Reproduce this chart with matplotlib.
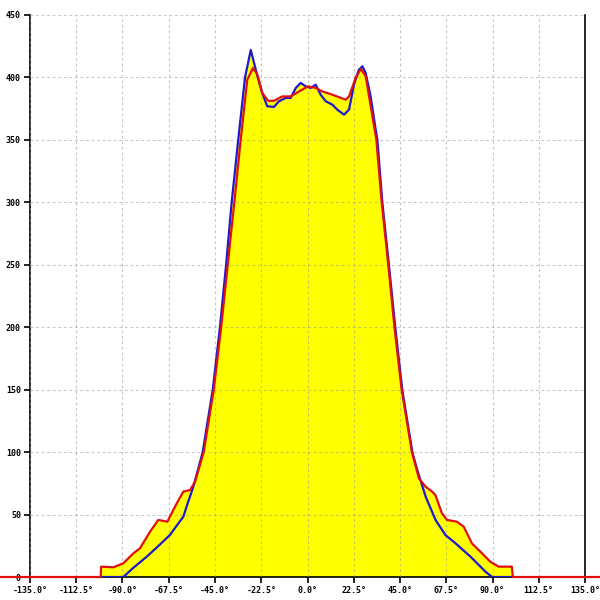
import numpy as np
import matplotlib.pyplot as plt

# angle (deg) / count pairs
blue_x = [-100.4, -89.6, -85.0, -78.2, -72.9, -66.9, -64.0, -60.4, -58.3, -55.5,
          -51.0, -46.1, -42.6, -39.6, -36.9, -33.7, -30.4, -27.6, -24.2, -22.0,
          -19.6, -16.3, -13.9, -10.6, -8.2, -5.7, -3.3, -0.9, 1.6, 4.0,
          6.4, 8.9, 12.1, 14.5, 17.8, 20.2, 22.6, 25.0, 26.7, 28.3,
          30.7, 33.2, 34.0, 36.4, 39.6, 42.7, 46.1, 51.0, 53.4, 57.5,
          62.3, 67.1, 72.0, 79.3, 86.6, 89.8, 100.0]
blue_y = [0, 0, 7, 16.3, 24.3, 33.7, 40.3, 48.3, 59, 72.4,
          100, 150, 200, 250, 300, 350, 400, 422, 400, 387.5,
          376.9, 376.4, 380.9, 383.6, 383.6, 391.6, 395.6, 392.9, 391.6, 394.2,
          386.2, 380.9, 378.2, 374.2, 370.2, 374.2, 394.2, 406.2, 408.9, 403.6,
          384.9, 358, 350, 300, 250, 200, 150, 100, 85.7, 64.3,
          45.7, 33.6, 27, 16.3, 4.2, 0, 0]

red_x = [-150, -100.6, -100.4, -94.4, -89.6, -84.7, -81.5, -76.6, -72.6, -68.2,
         -63.6, -60.4, -57.1, -54.7, -50.5, -45.6, -42.0, -38.8, -35.6, -32.5,
         -29.3, -26.5, -24.4, -22.0, -19.1, -16.3, -12.3, -8.2, -4.1, 0.2,
         4.0, 7.2, 12.1, 18.6, 20.2, 23.4, 25.9, 28.3, 33.5, 36.1,
         39.3, 42.3, 45.8, 50.8, 54.2, 57.4, 60.6, 62.2, 65.4, 67.9,
         72.7, 76.0, 80.0, 84.9, 88.9, 93.0, 99.4, 99.9, 150]
red_y = [0, 0, 8.3, 7.8, 11, 19, 23, 36.3, 45.7, 44.3,
         59, 68.4, 69.7, 76.4, 100, 150, 200, 250, 300, 350,
         398.2, 407.6, 402.2, 387.5, 381.3, 381.3, 384.8, 384.8, 388.8, 392.9,
         391.6, 388.8, 386.2, 382.2, 384.8, 399.6, 406.8, 401, 350, 300,
         250, 200, 150, 100, 79, 72.4, 68.4, 65.7, 51, 45.7,
         44.3, 40.3, 26.9, 19, 12.3, 8.3, 8.3, 0, 0]

x_ticks = np.arange(-135, 135.1, 22.5)
y_ticks = np.arange(0, 451, 50)

fig = plt.figure(figsize=(6, 6), dpi=100)
ax = fig.add_axes([0.05, 0.0383, 0.925, 0.9367])

ax.fill(blue_x, blue_y, color='#ffff00', lw=0, zorder=1)
ax.fill(red_x, red_y, color='#ffff00', lw=0, zorder=1)
ax.plot(blue_x, blue_y, color='#1a1ad0', lw=1.6, zorder=3)
ax.plot(red_x, red_y, color='#e01010', lw=1.6, zorder=4, clip_on=False)

ax.set_xlim(-135, 135)
ax.set_ylim(0, 450)
ax.set_xticks(x_ticks)
ax.set_xticklabels([f'{v:.1f}°' for v in x_ticks])
ax.set_yticks(y_ticks)
ax.set_yticklabels([f'{v:d}' for v in y_ticks])

ax.set_axisbelow(False)
ax.grid(True, color='#999999', alpha=0.55, linestyle=(0, (2.5, 2.5)), linewidth=0.8)
ax.spines['top'].set_visible(False)
for s in ('left', 'right', 'bottom'):
    ax.spines[s].set_linewidth(1.2)
ax.tick_params(direction='out', length=4, width=1.2, pad=2.5, labelsize=6)
for lab in ax.get_xticklabels() + ax.get_yticklabels():
    lab.set_family('DejaVu Sans Mono')
    lab.set_weight('bold')

fig.savefig('out.png', dpi=100)
